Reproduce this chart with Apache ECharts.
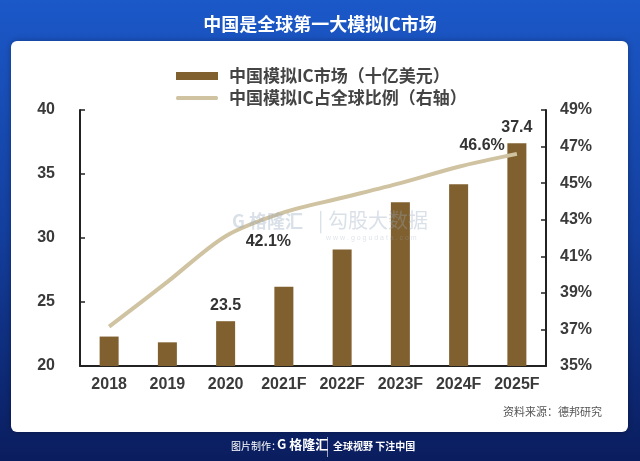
<!DOCTYPE html>
<html>
<head>
<meta charset="utf-8">
<script src="https://cdn.jsdelivr.net/npm/echarts@6/dist/echarts.min.js"></script>
<style>
  html, body { margin: 0; padding: 0; }
  #chart { width: 640px; height: 461px; }
</style>
</head>
<body>
<div id="chart"></div>
<script>
// 数据
var years = ["2018", "2019", "2020", "2021F", "2022F", "2023F", "2024F", "2025F"];
var marketSize = [22.3, 21.85, 23.5, 26.2, 29.1, 32.8, 34.2, 37.4]; // 十亿美元
var globalShare = [37.15, 39.6, 42.1, 43.4, 44.2, 45.0, 45.9, 46.6]; // %
var leftTicks = { min: 20, max: 40, interval: 5 };
var rightTicks = { min: 35, max: 49, interval: 2 };
var labeledBars = [2, 7];
var labeledPoints = [2, 7];

var barName = "中国模拟IC市场（十亿美元）";
var lineName = "中国模拟IC占全球比例（右轴）";

var cjk = "'Noto Sans CJK SC', 'Noto Sans', sans-serif";
var num = "'Liberation Sans', Arial, sans-serif";

var chartDom = document.getElementById("chart");
var myChart = echarts.init(chartDom);

var option = {
  animation: false,
  graphic: [
    // 背景
    {
      type: "rect", z: -20, silent: true,
      shape: { x: 0, y: 0, width: 640, height: 461 },
      style: {
        fill: new echarts.graphic.LinearGradient(0, 0, 0, 1, [
          { offset: 0, color: "#1b58c8" },
          { offset: 0.5, color: "#133f9e" },
          { offset: 1, color: "#0a1d5e" },
        ]),
      },
    },
    // 白色面板
    {
      type: "rect", z: -10, silent: true,
      shape: { x: 11, y: 41, width: 617, height: 391, r: 6 },
      style: { fill: "#ffffff", shadowBlur: 6, shadowColor: "rgba(0,0,0,0.3)" },
    },
    // 标题
    {
      type: "text", z: 10, left: "center", top: 15,
      style: { text: "中国是全球第一大模拟IC市场", fill: "#ffffff", font: "bold 18px " + cjk },
    },
    // 水印
    {
      type: "text", z: 10, left: 232, top: 212,
      style: { text: "G 格隆汇", fill: "rgba(150,165,190,0.35)", font: "bold 18px " + cjk },
    },
    {
      type: "text", z: 10, left: 318, top: 210,
      style: { text: "| 勾股大数据", fill: "rgba(150,165,190,0.35)", font: "20px " + cjk },
    },
    {
      type: "text", z: 10, left: 326, top: 235,
      style: { text: "w w w . g o g u d a t a . c o m", fill: "rgba(150,165,190,0.3)", font: "7px " + num },
    },
    // 资料来源
    {
      type: "text", z: 10, right: 38, top: 406,
      style: { text: "资料来源：德邦研究", fill: "#555555", font: "11px " + cjk },
    },
    // 底部
    {
      type: "text", z: 10, left: 231, top: 441,
      style: { text: "图片制作：", fill: "#ffffff", font: "10px " + cjk },
    },
    {
      type: "text", z: 10, left: 277, top: 438,
      style: { text: "G 格隆汇", fill: "#ffffff", font: "bold 13px " + cjk },
    },
    {
      type: "rect", z: 10,
      shape: { x: 327, y: 437, width: 1, height: 20 },
      style: { fill: "rgba(255,255,255,0.6)" },
    },
    {
      type: "text", z: 10, left: 333, top: 441,
      style: { text: "全球视野 下注中国", fill: "#ffffff", font: "bold 10px " + cjk },
    },
  ],
  legend: {
    orient: "vertical",
    left: 171,
    top: 61,
    itemWidth: 42,
    itemHeight: 8,
    itemGap: 2,
    textStyle: {
      fontFamily: cjk,
      fontWeight: "bold",
      fontSize: 17,
      color: "#444444",
      lineHeight: 20,
      padding: [0, 0, 0, 6],
    },
    data: [
      { name: barName, icon: "rect" },
      { name: lineName, icon: "path://M2,2 L40,2 Q42,4 40,6 L2,6 Q0,4 2,2 Z" },
    ],
  },
  grid: { left: 80, top: 110, width: 466, height: 256 },
  xAxis: {
    type: "category",
    data: years,
    axisLine: { lineStyle: { color: "#222", width: 2 } },
    axisTick: { inside: true, length: 5, lineStyle: { color: "#222", width: 1.5 } },
    axisLabel: { interval: 0, margin: 11, color: "#3a3a3a", fontFamily: num, fontWeight: "bold", fontSize: 16 },
  },
  yAxis: [
    {
      type: "value",
      min: leftTicks.min, max: leftTicks.max, interval: leftTicks.interval,
      splitLine: { show: false },
      axisLine: { show: true, lineStyle: { color: "#222", width: 2 } },
      axisTick: { show: true, inside: true, length: 5, lineStyle: { color: "#222", width: 1.5 } },
      axisLabel: { margin: 25, color: "#3a3a3a", fontFamily: num, fontWeight: "bold", fontSize: 16 },
    },
    {
      type: "value",
      position: "right",
      min: rightTicks.min, max: rightTicks.max, interval: rightTicks.interval,
      splitLine: { show: false },
      axisLine: { show: true, lineStyle: { color: "#222", width: 2 } },
      axisTick: { show: true, inside: true, length: 5, lineStyle: { color: "#222", width: 1.5 } },
      axisLabel: { margin: 14, color: "#3a3a3a", fontFamily: num, fontWeight: "bold", fontSize: 16, formatter: "{value}%" },
    },
  ],
  series: [
    {
      name: barName,
      type: "bar",
      barWidth: 19,
      itemStyle: { color: "#80602f" },
      data: marketSize.map(function (v, i) {
        var d = { value: v };
        if (labeledBars.indexOf(i) >= 0) {
          d.label = {
            show: true, position: "top", distance: 8,
            color: "#333", fontFamily: num, fontWeight: "bold", fontSize: 16,
          };
        }
        return d;
      }),
    },
    {
      name: lineName,
      type: "line",
      yAxisIndex: 1,
      smooth: 0.3,
      symbol: "circle",
      symbolSize: 0.1,
      showSymbol: true,
      z: 5,
      lineStyle: { color: "#d0c3a2", width: 4 },
      itemStyle: { color: "#d0c3a2" },
      label: {
        show: false,
        color: "#333", fontFamily: num, fontWeight: "bold", fontSize: 16,
        formatter: function (p) { return p.value.toFixed(1) + "%"; },
      },
      data: globalShare.map(function (v, i) {
        var d = { value: v };
        if (i === labeledPoints[0]) {
          d.label = { show: true, position: "right", distance: 20, offset: [0, 5] };
        } else if (i === labeledPoints[1]) {
          d.label = { show: true, position: "left", distance: 12, offset: [0, -8] };
        }
        return d;
      }),
    },
  ],
};

myChart.setOption(option);
</script>
</body>
</html>
